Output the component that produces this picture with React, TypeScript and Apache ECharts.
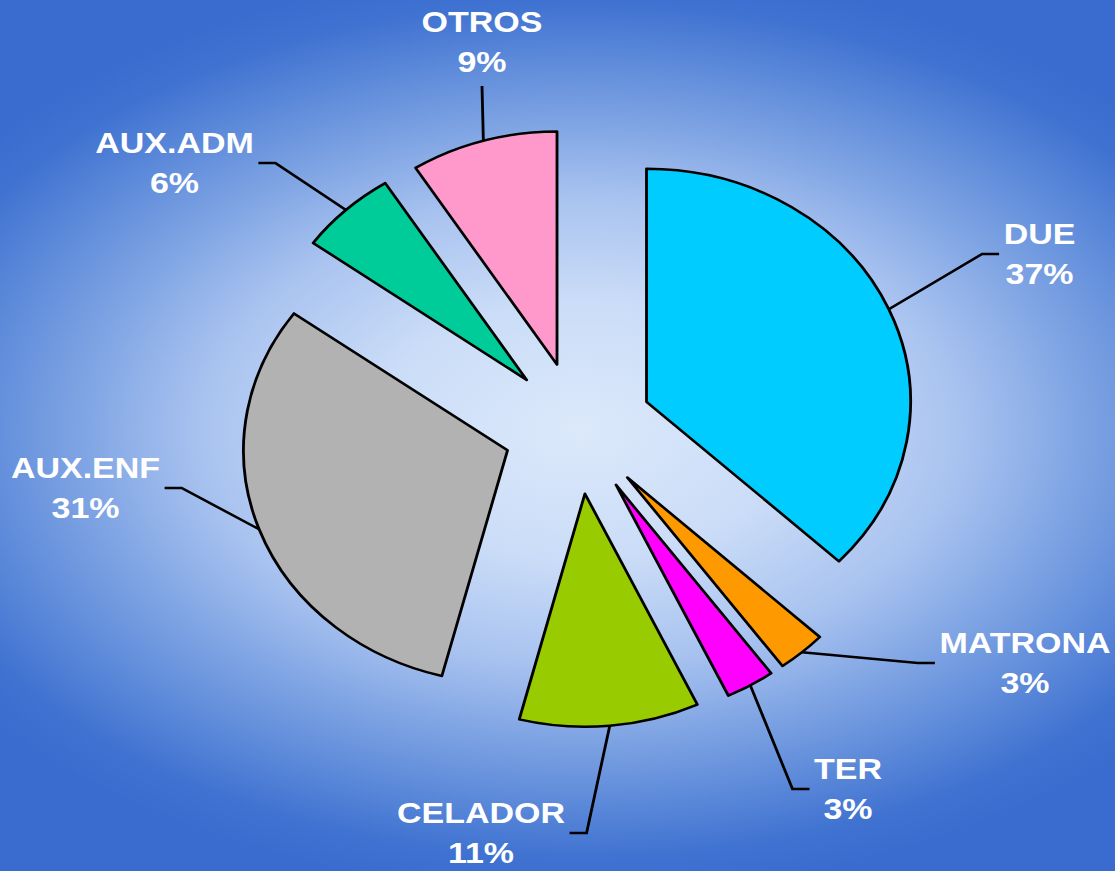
import React, { useEffect, useRef } from "react";
import * as echarts from "echarts";

// ---- data ----
const categories = ["DUE", "MATRONA", "TER", "CELADOR", "AUX.ENF", "AUX.ADM", "OTROS"];
const percentages = [37, 3, 3, 11, 31, 6, 9];
const sliceColors = ["#00ccff", "#ff9900", "#ff00ff", "#99cc00", "#b2b2b2", "#00cc99", "#ff99cc"];

// ---- layout ----
const PAGE_W = 1115;
const PAGE_H = 871;
const STRETCH = 1.1331; // the reference is stretched horizontally
const CHART_W = Math.round(PAGE_W / STRETCH);
const CENTER = [510, 428];
const RADIUS = 233;
const EXPLODE = 66;
const LEN2 = 15;

// label centre (page x, page y) and the side of the label the leader line attaches to
const labelAnchors: Record<string, [number, number, string]> = {
  DUE: [1039.5, 254, "left"],
  MATRONA: [1025, 663, "left"],
  TER: [848, 789, "left"],
  CELADOR: [481, 833, "right"],
  "AUX.ENF": [85.5, 488, "right"],
  "AUX.ADM": [174.5, 163, "right"],
  OTROS: [482, 42, "bottom"],
};

const labelStyle = {
  show: true,
  position: "outside",
  formatter: "{b}\n{c}%",
  color: "#ffffff",
  fontFamily: "'Liberation Sans', Arial, sans-serif",
  fontWeight: "bold",
  fontSize: 30,
  lineHeight: 40,
  padding: [4, 4],
  align: "center",
};

function labelLayout(params: any) {
  const name = categories[params.dataIndex];
  const a = labelAnchors[name];
  if (!a) return {};
  const x = a[0] / STRETCH;
  const y = a[1];
  const w = params.labelRect.width;
  const h = params.labelRect.height;
  const out: any = { x, y, align: "center", verticalAlign: "middle" };
  const pts = params.labelLinePoints;
  if (pts && pts.length) {
    const p0 = pts[0];
    let p2: number[];
    let p1: number[];
    const side = a[2];
    if (side === "left") {
      p2 = [x - w / 2, y];
      p1 = [p2[0] - LEN2, y];
    } else if (side === "right") {
      p2 = [x + w / 2, y];
      p1 = [p2[0] + LEN2, y];
    } else if (side === "bottom") {
      p2 = [x, y + h / 2];
      p1 = [x, y + h / 2];
    } else {
      p2 = [x, y - h / 2];
      p1 = [x, y - h / 2];
    }
    out.labelLinePoints = [[p0[0], p0[1]], p1, p2];
  }
  return out;
}

export default function App() {
  const ref = useRef<HTMLDivElement>(null);

  useEffect(() => {
    document.body.style.margin = "0";
    if (!ref.current) return;
    const chart = echarts.init(ref.current, null, {
      renderer: "svg",
      width: CHART_W,
      height: PAGE_H,
    });

    const total = percentages.reduce((s, v) => s + v, 0);
    let acc = 0;
    // one pie per slice, each pulled out along its own bisector (exploded pie)
    const series = categories.map((_, i) => {
      const mid = ((acc + percentages[i] / 2) / total) * Math.PI * 2;
      acc += percentages[i];
      const center = [CENTER[0] + EXPLODE * Math.sin(mid), CENTER[1] - EXPLODE * Math.cos(mid)];
      return {
        type: "pie",
        center,
        radius: RADIUS,
        startAngle: 90,
        clockwise: true,
        avoidLabelOverlap: false,
        silent: true,
        emphasis: { disabled: true },
        label: labelStyle,
        labelLine: {
          show: true,
          length: 20,
          length2: LEN2,
          smooth: false,
          lineStyle: { color: "#000", width: 2.5 },
        },
        labelLayout,
        data: categories.map((name, j) =>
          j === i
            ? {
                name,
                value: percentages[j],
                itemStyle: { color: sliceColors[j], borderColor: "#000", borderWidth: 2.5 },
              }
            : {
                name,
                value: percentages[j],
                itemStyle: { color: "rgba(0,0,0,0)", borderWidth: 0 },
                label: { show: false },
                labelLine: { show: false },
              }
        ),
      };
    });

    const bgW = 1250;
    const bgX0 = 512 - bgW / 2;

    const option: any = {
      animation: false,
      graphic: [
        {
          type: "rect",
          silent: true,
          z: -10,
          shape: { x: bgX0, y: 0, width: bgW, height: PAGE_H },
          style: {
            fill: new echarts.graphic.RadialGradient(0.5, 0.494, 0.534, [
              { offset: 0, color: "#dce9fb" },
              { offset: 0.28, color: "#cadcf7" },
              { offset: 0.5, color: "#a9c3f0" },
              { offset: 0.72, color: "#7099df" },
              { offset: 0.92, color: "#3f72d1" },
              { offset: 1, color: "#3a6ccf" },
            ]),
          },
        },
      ],
      series,
    };

    chart.setOption(option);
    return () => chart.dispose();
  }, []);

  return (
    <div style={{ width: PAGE_W, height: PAGE_H, overflow: "hidden", position: "relative" }}>
      <div
        ref={ref}
        style={{
          width: CHART_W,
          height: PAGE_H,
          transform: `scaleX(${STRETCH})`,
          transformOrigin: "0 0",
        }}
      />
    </div>
  );
}
